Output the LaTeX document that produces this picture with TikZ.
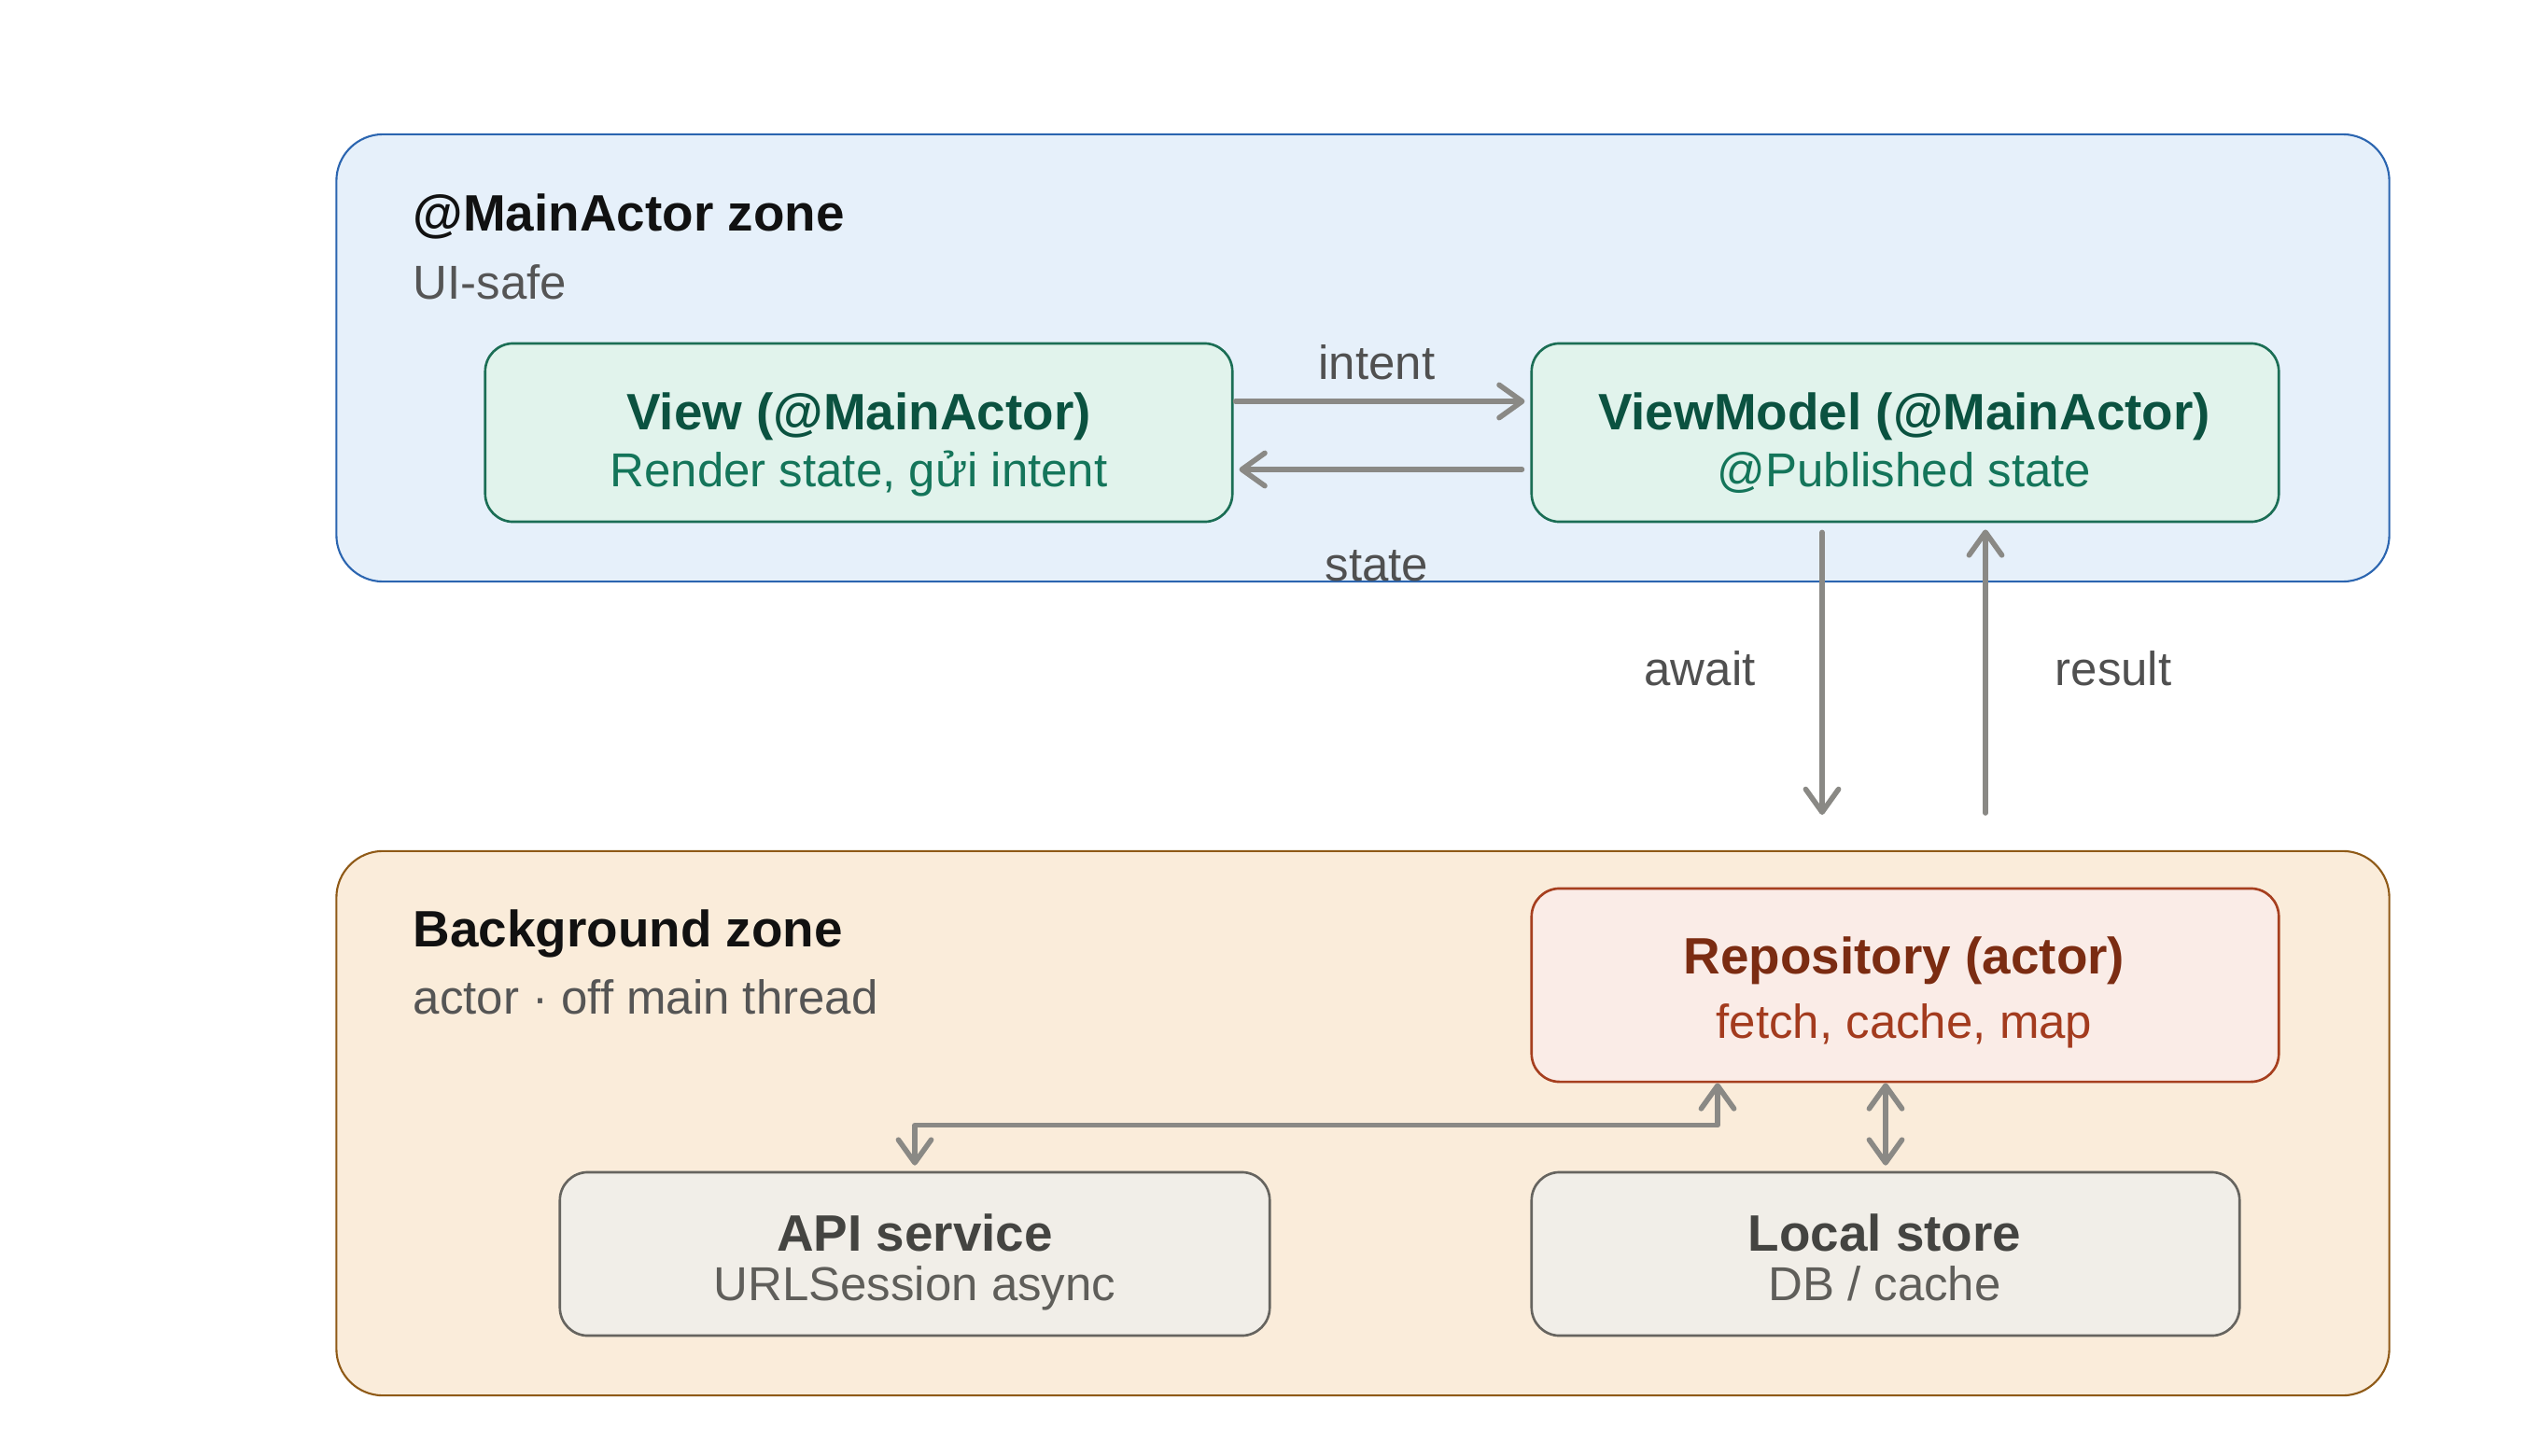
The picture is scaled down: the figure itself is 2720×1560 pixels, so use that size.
\documentclass[tikz,border=0pt]{standalone}
\usepackage{fontspec}
\setmainfont{Liberation Sans}
\usetikzlibrary{arrows.meta,calc}
\definecolor{zbFill}{HTML}{E6F0FA}
\definecolor{zbDraw}{HTML}{2B65B0}
\definecolor{zoFill}{HTML}{FAECDA}
\definecolor{zoDraw}{HTML}{8F5A17}
\definecolor{gnFill}{HTML}{E1F3EC}
\definecolor{gnDraw}{HTML}{1B6E55}
\definecolor{gnTitle}{HTML}{0B5240}
\definecolor{gnSub}{HTML}{14755A}
\definecolor{rdFill}{HTML}{FAECE7}
\definecolor{rdDraw}{HTML}{A63F1F}
\definecolor{rdTitle}{HTML}{7B2C12}
\definecolor{rdSub}{HTML}{A33B1E}
\definecolor{gyFill}{HTML}{F1EEE8}
\definecolor{gyDraw}{HTML}{66645F}
\definecolor{gyTitle}{HTML}{444441}
\definecolor{gySub}{HTML}{5F5E5A}
\definecolor{arrC}{HTML}{8A8985}
\definecolor{lblC}{HTML}{505050}
\definecolor{zT}{HTML}{111111}
\definecolor{zS}{HTML}{555555}
\begin{document}
\begin{tikzpicture}[x=0.01cm,y=-0.01cm,
  zone/.style={rectangle, rounded corners=0.5cm, line width=0.6pt, inner sep=0pt},
  box/.style={rectangle, rounded corners=0.3cm, line width=0.75pt, inner sep=0pt},
  ttl/.style={anchor=base, inner sep=0pt, font=\fontsize{15.6}{18}\selectfont\bfseries},
  sub/.style={anchor=base, inner sep=0pt, font=\fontsize{14.5}{17}\selectfont},
  ztitle/.style={anchor=base west, inner sep=0pt, text=zT, font=\fontsize{15.6}{18}\selectfont\bfseries},
  zsub/.style={anchor=base west, inner sep=0pt, text=zS, font=\fontsize{14.5}{17}\selectfont},
  lbl/.style={anchor=base, inner sep=0pt, text=lblC, font=\fontsize{14.5}{17}\selectfont},
  tip/.style={Straight Barb[length=7pt,width=10pt,round]},
  arr/.style={draw=arrC, line width=1.6pt, line cap=round, line join=round, -{Straight Barb[length=7pt,width=10pt,round]}},
  dbl/.style={draw=arrC, line width=1.6pt, line cap=round, line join=round, {Straight Barb[length=7pt,width=10pt,round]}-{Straight Barb[length=7pt,width=10pt,round]}}
]
\useasboundingbox[fill=white] (0,0) rectangle (2720,1560);

% zones
\node[zone, fill=zbFill, draw=zbDraw, minimum width=21.98cm, minimum height=4.79cm] (mainzone) at (1460,383.5) {};
\node[zone, fill=zoFill, draw=zoDraw, minimum width=21.98cm, minimum height=5.83cm] (bgzone) at (1460,1203.5) {};

\node[ztitle] (mainT) at (442,247) {@MainActor zone};
\node[zsub] (mainS) at (442,320) {UI-safe};
\node[ztitle] (bgT) at (442,1014) {Background zone};
\node[zsub] (bgS) at (442,1086) {actor · off main thread};

% boxes
\node[box, fill=gnFill, draw=gnDraw, minimum width=8cm, minimum height=1.91cm] (view) at (920,463.5) {};
\node[box, fill=gnFill, draw=gnDraw, minimum width=8cm, minimum height=1.91cm] (vm) at (2041,463.5) {};
\node[box, fill=rdFill, draw=rdDraw, minimum width=8cm, minimum height=2.07cm] (repo) at (2041,1055.5) {};
\node[box, fill=gyFill, draw=gyDraw, minimum width=7.6cm, minimum height=1.75cm] (api) at (980,1343.5) {};
\node[box, fill=gyFill, draw=gyDraw, minimum width=7.58cm, minimum height=1.75cm] (local) at (2020,1343.5) {};

% box texts
\node[ttl, text=gnTitle] (viewT) at (920,460) {View (@MainActor)};
\node[sub, text=gnSub] (viewS) at (920,521) {Render state, gửi intent};
\node[ttl, text=gnTitle] (vmT) at (2040,460) {ViewModel (@MainActor)};
\node[sub, text=gnSub] (vmS) at (2040,521) {@Published state};
\node[ttl, text=rdTitle] (repoT) at (2040,1043) {Repository (actor)};
\node[sub, text=rdSub] (repoS) at (2040,1112) {fetch, cache, map};
\node[ttl, text=gyTitle] (apiT) at (980,1340) {API service};
\node[sub, text=gySub] (apiS) at (980,1393) {URLSession async};
\node[ttl, text=gyTitle] (localT) at (2019,1340) {Local store};
\node[sub, text=gySub] (localS) at (2019,1393) {DB / cache};

% connectors
\draw[arr] ($(view.east)+(2,-33.5)$) -- ($(vm.west)+(-6,-33.5)$);
\draw[arr] ($(vm.west)+(-9,39.5)$) -- ($(view.east)+(6,39.5)$);
\node[lbl] (intentL) at (1475,406) {intent};
\node[lbl] (stateL) at (1475,622) {state};

\coordinate (awaitEnd) at (1952,873);
\coordinate (resultStart) at (2127,871);
\draw[arr] ($(vm.south)+(-89,10)$) -- (awaitEnd);
\draw[arr] (resultStart) -- ($(vm.south)+(86,7)$);
\node[lbl] (awaitL) at (1821,734) {await};
\node[lbl] (resultL) at (2264,734) {result};

\draw[dbl] ($(repo.south)+(-201,0)$) |- ($(api.north)+(0,-49)$) -- ($(api.north)+(0,-6)$);
\draw[dbl] ($(local.north)+(0,-6)$) -- (local.north |- repo.south);
\end{tikzpicture}
\end{document}
